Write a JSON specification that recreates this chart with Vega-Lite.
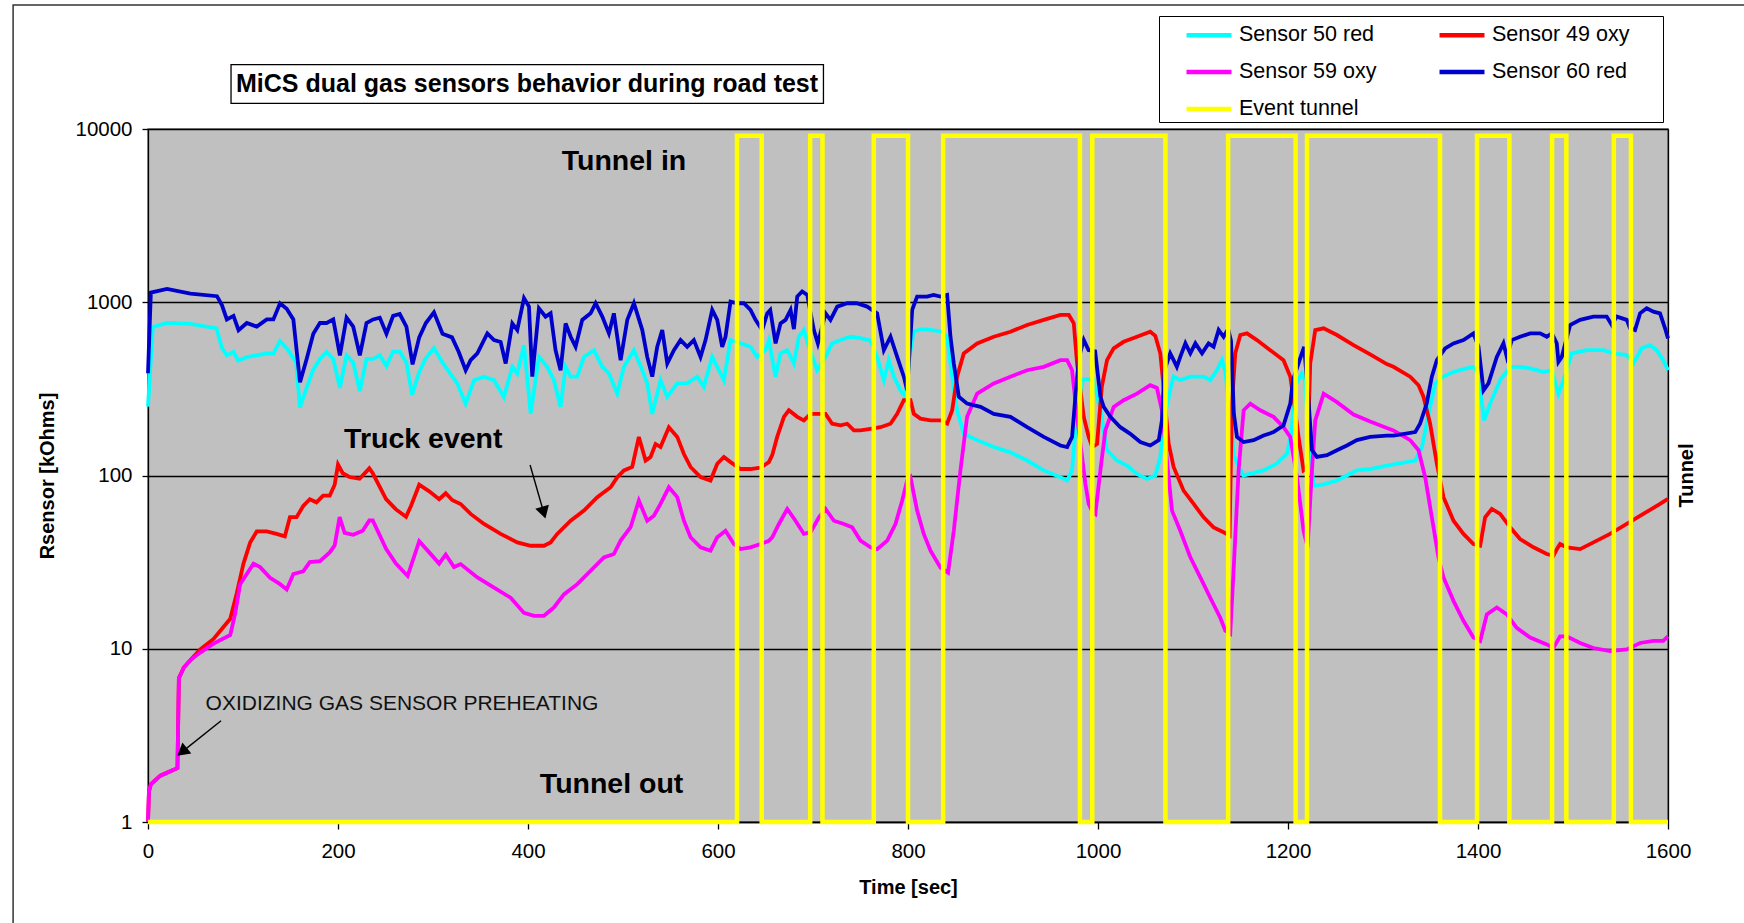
{
"$schema":"https://vega.github.io/schema/vega-lite/v6.json",
"width":1520,"height":693,
"autosize":{"type":"none"},
"padding":{"left":148,"top":129,"right":76,"bottom":101},
"background":"white",
"config":{
 "view":{"fill":"#c0c0c0","stroke":"#6e6e6e","strokeWidth":1.5},
 "font":"Liberation Sans",
 "axis":{"labelFont":"Liberation Sans","labelFontSize":20.5,"labelColor":"black","labelFlush":false,"tickColor":"black","domainColor":"black","titleFont":"Liberation Sans","titleFontSize":20,"titleFontWeight":"bold","titleColor":"black","grid":false,"domainWidth":1.3,"tickWidth":1.3},
 "axisLeft":{"grid":true,"gridColor":"black","gridWidth":1.3,"gridOpacity":1,"tickSize":6,"labelPadding":10,"titlePadding":17},
 "axisBottom":{"tickSize":7,"labelPadding":12,"titlePadding":16},
 "axisRight":{"labels":false,"ticks":false,"grid":false,"titleAngle":270,"titleAlign":"center","titleBaseline":"middle","titleX":18,"titleY":346}
},
"datasets":{
"s50":[{"t":0,"v":250},{"t":5,"v":720},{"t":20,"v":760},{"t":45,"v":750},{"t":72,"v":706},{"t":78,"v":543},{"t":83,"v":494},{"t":90,"v":518},{"t":95,"v":460},{"t":104,"v":482},{"t":114,"v":494},{"t":125,"v":506},{"t":132,"v":506},{"t":139,"v":598},{"t":146,"v":543},{"t":156,"v":449},{"t":160,"v":247},{"t":167,"v":321},{"t":174,"v":408},{"t":181,"v":471},{"t":188,"v":518},{"t":195,"v":471},{"t":202,"v":321},{"t":209,"v":494},{"t":216,"v":449},{"t":223,"v":307},{"t":230,"v":471},{"t":237,"v":471},{"t":244,"v":494},{"t":251,"v":428},{"t":258,"v":518},{"t":265,"v":518},{"t":272,"v":449},{"t":278,"v":292},{"t":285,"v":389},{"t":292,"v":471},{"t":301,"v":543},{"t":310,"v":449},{"t":318,"v":389},{"t":325.6,"v":340},{"t":334.4,"v":260},{"t":343.2,"v":355},{"t":353.7,"v":372},{"t":364.2,"v":355},{"t":374.7,"v":284},{"t":383.5,"v":424},{"t":388.7,"v":388},{"t":395.8,"v":566},{"t":402.8,"v":227},{"t":411.5,"v":484},{"t":420.3,"v":424},{"t":427.3,"v":355},{"t":434.3,"v":249},{"t":439.6,"v":424},{"t":444.9,"v":372},{"t":451.9,"v":372},{"t":458.9,"v":484},{"t":469.4,"v":529},{"t":478.2,"v":424},{"t":485.2,"v":388},{"t":494,"v":297},{"t":501,"v":424},{"t":511.5,"v":529},{"t":520.3,"v":405},{"t":525.5,"v":340},{"t":530.8,"v":227},{"t":539.5,"v":355},{"t":546.6,"v":284},{"t":557.1,"v":340},{"t":567.6,"v":340},{"t":578.1,"v":372},{"t":585.1,"v":325},{"t":593.9,"v":484},{"t":599.2,"v":424},{"t":606.2,"v":355},{"t":613.2,"v":605},{"t":623.7,"v":579},{"t":634.2,"v":553},{"t":641.2,"v":484},{"t":650,"v":529},{"t":653.6,"v":605},{"t":660.6,"v":372},{"t":665.8,"v":507},{"t":672.9,"v":529},{"t":679.9,"v":443},{"t":685.1,"v":632},{"t":690.4,"v":691},{"t":695.7,"v":553},{"t":704.4,"v":405},{"t":713.2,"v":484},{"t":720.2,"v":579},{"t":729,"v":605},{"t":739.5,"v":632},{"t":750,"v":620},{"t":760.5,"v":600},{"t":767.5,"v":484},{"t":774.6,"v":355},{"t":779.8,"v":463},{"t":785.1,"v":372},{"t":792.1,"v":310},{"t":797.4,"v":285},{"t":802,"v":500},{"t":806,"v":680},{"t":815,"v":700},{"t":825,"v":690},{"t":834,"v":680},{"t":841.2,"v":632},{"t":846.5,"v":372},{"t":851.7,"v":238},{"t":858.7,"v":174},{"t":872.8,"v":160},{"t":890.3,"v":146},{"t":907.8,"v":136},{"t":925.4,"v":122},{"t":942.9,"v":107},{"t":960.4,"v":97.8},{"t":967.5,"v":93.5},{"t":972.7,"v":107},{"t":976.2,"v":182},{"t":984,"v":360},{"t":995,"v":360},{"t":1002.5,"v":238},{"t":1009.5,"v":140},{"t":1020,"v":122},{"t":1030.5,"v":114},{"t":1041,"v":102},{"t":1051.6,"v":95.6},{"t":1060.3,"v":100},{"t":1065.6,"v":128},{"t":1069,"v":208},{"t":1076,"v":310},{"t":1079.6,"v":372},{"t":1086.6,"v":355},{"t":1097.2,"v":372},{"t":1111.2,"v":372},{"t":1118.2,"v":355},{"t":1125.2,"v":405},{"t":1130.5,"v":463},{"t":1134,"v":400},{"t":1138,"v":250},{"t":1143,"v":130},{"t":1153,"v":100},{"t":1174,"v":107},{"t":1188,"v":117},{"t":1199,"v":134},{"t":1204,"v":182},{"t":1206.6,"v":325},{"t":1214.6,"v":388},{"t":1218,"v":355},{"t":1222,"v":150},{"t":1227,"v":87.5},{"t":1237.5,"v":89},{"t":1251.5,"v":93.5},{"t":1262,"v":100},{"t":1272.5,"v":107},{"t":1286.5,"v":109},{"t":1304,"v":114},{"t":1334,"v":122},{"t":1341,"v":146},{"t":1348,"v":227},{"t":1355,"v":340},{"t":1363.7,"v":372},{"t":1374,"v":396},{"t":1388,"v":415},{"t":1397,"v":424},{"t":1402,"v":325},{"t":1406.5,"v":208},{"t":1412.8,"v":260},{"t":1423.3,"v":355},{"t":1433.8,"v":424},{"t":1444,"v":424},{"t":1455,"v":415},{"t":1469,"v":396},{"t":1477.7,"v":405},{"t":1484.7,"v":297},{"t":1490,"v":355},{"t":1498.7,"v":507},{"t":1514.5,"v":529},{"t":1532,"v":529},{"t":1542.5,"v":507},{"t":1556.6,"v":496},{"t":1563.6,"v":443},{"t":1572.3,"v":542},{"t":1581,"v":566},{"t":1588,"v":529},{"t":1595,"v":463},{"t":1600,"v":405}],
"s49":[{"t":0,"v":1},{"t":1,"v":1.5},{"t":3,"v":1.65},{"t":13,"v":1.85},{"t":27,"v":2},{"t":31,"v":2.05},{"t":32.5,"v":6.76},{"t":37.7,"v":7.8},{"t":44.7,"v":8.6},{"t":55,"v":9.9},{"t":69,"v":11.4},{"t":86.6,"v":14.9},{"t":93.5,"v":21},{"t":100.5,"v":31},{"t":107.5,"v":41},{"t":114.5,"v":47.6},{"t":125,"v":47.6},{"t":135.4,"v":46},{"t":144,"v":44.5},{"t":149.4,"v":57.5},{"t":156.4,"v":57.5},{"t":163.4,"v":66.7},{"t":170.3,"v":73},{"t":177.3,"v":70},{"t":184.3,"v":76.5},{"t":191.3,"v":76.5},{"t":196.5,"v":88.5},{"t":200,"v":115.6},{"t":205,"v":103},{"t":212,"v":98},{"t":222.7,"v":95.7},{"t":233,"v":110},{"t":236.6,"v":103},{"t":250.6,"v":73},{"t":261,"v":63.7},{"t":271.6,"v":57.8},{"t":276.8,"v":66.7},{"t":285.5,"v":88.5},{"t":296,"v":81},{"t":306.5,"v":73},{"t":313.4,"v":79},{"t":320.4,"v":72},{"t":329.1,"v":68.5},{"t":339.6,"v":60},{"t":353.7,"v":52.5},{"t":371.2,"v":46},{"t":388.7,"v":41.1},{"t":402.8,"v":39.3},{"t":416.8,"v":39.3},{"t":423.8,"v":41.1},{"t":430.8,"v":46},{"t":444.9,"v":54.8},{"t":458.9,"v":62.7},{"t":472.9,"v":75},{"t":487,"v":85.5},{"t":494,"v":97.8},{"t":501,"v":107},{"t":509.7,"v":112},{"t":516.7,"v":167},{"t":523.8,"v":122},{"t":529,"v":128},{"t":534.3,"v":152},{"t":539.5,"v":146},{"t":548.3,"v":190},{"t":557.1,"v":167},{"t":564.1,"v":133},{"t":571.1,"v":112},{"t":581.6,"v":97.8},{"t":592.1,"v":93.5},{"t":599.2,"v":117},{"t":606.2,"v":128},{"t":613.2,"v":119.5},{"t":623.7,"v":109},{"t":634.2,"v":109},{"t":644.8,"v":111},{"t":653.5,"v":119.5},{"t":657.1,"v":131},{"t":662.3,"v":167},{"t":669.4,"v":218},{"t":674.6,"v":238},{"t":683.4,"v":218},{"t":690.4,"v":208},{"t":697.4,"v":227},{"t":706.2,"v":227},{"t":713.2,"v":227},{"t":720.2,"v":199},{"t":729,"v":195},{"t":736,"v":199},{"t":743,"v":182},{"t":750,"v":182},{"t":760.5,"v":186},{"t":771,"v":190},{"t":781.6,"v":199},{"t":788.6,"v":227},{"t":795.6,"v":272},{"t":802.6,"v":272},{"t":806.1,"v":227},{"t":813.1,"v":213},{"t":823.7,"v":208},{"t":834.2,"v":208},{"t":841.2,"v":199},{"t":846.5,"v":238},{"t":851.7,"v":372},{"t":858.7,"v":507},{"t":872.8,"v":579},{"t":890.3,"v":632},{"t":907.8,"v":676},{"t":925.4,"v":739},{"t":942.9,"v":791},{"t":960.4,"v":845},{"t":969.3,"v":845},{"t":974.5,"v":755},{"t":978,"v":443},{"t":985,"v":218},{"t":990.2,"v":167},{"t":994,"v":146},{"t":999,"v":152},{"t":1004,"v":325},{"t":1009.5,"v":463},{"t":1016.5,"v":542},{"t":1027,"v":591},{"t":1041,"v":632},{"t":1055,"v":676},{"t":1060.3,"v":640},{"t":1065.6,"v":507},{"t":1069,"v":325},{"t":1074.4,"v":152},{"t":1079.6,"v":112},{"t":1090.1,"v":81.8},{"t":1100.7,"v":68.5},{"t":1111.2,"v":57.4},{"t":1121.7,"v":50.2},{"t":1132.2,"v":47},{"t":1138.5,"v":45},{"t":1141,"v":260},{"t":1144.5,"v":507},{"t":1149.8,"v":647},{"t":1156.8,"v":661},{"t":1167.3,"v":605},{"t":1181.3,"v":529},{"t":1195.3,"v":463},{"t":1202.4,"v":372},{"t":1206.6,"v":260},{"t":1211.1,"v":167},{"t":1216.4,"v":107},{"t":1220,"v":110},{"t":1223.4,"v":443},{"t":1228.7,"v":691},{"t":1237.5,"v":707},{"t":1251.5,"v":647},{"t":1269,"v":566},{"t":1286.5,"v":500},{"t":1304,"v":440},{"t":1311,"v":424},{"t":1328.6,"v":372},{"t":1337.4,"v":332},{"t":1342.6,"v":285},{"t":1349.6,"v":199},{"t":1356.7,"v":117},{"t":1363.7,"v":75},{"t":1374.2,"v":54.8},{"t":1384.7,"v":46},{"t":1395.2,"v":40.2},{"t":1402.3,"v":39.3},{"t":1407.5,"v":57.4},{"t":1414.5,"v":64.1},{"t":1423.3,"v":60},{"t":1433.8,"v":50.2},{"t":1444.3,"v":43},{"t":1458.4,"v":38.5},{"t":1472.4,"v":35.2},{"t":1479.4,"v":34.4},{"t":1483,"v":37.6},{"t":1486.4,"v":40.2},{"t":1493.4,"v":38.5},{"t":1507.5,"v":37.6},{"t":1521.5,"v":41.1},{"t":1539,"v":46},{"t":1556.6,"v":52.5},{"t":1574,"v":60},{"t":1591.6,"v":68.5},{"t":1600,"v":73.3}],
"s59":[{"t":0,"v":1},{"t":1,"v":1.5},{"t":3,"v":1.65},{"t":13,"v":1.85},{"t":27,"v":2},{"t":31,"v":2.05},{"t":32.5,"v":6.76},{"t":37.7,"v":7.8},{"t":44.7,"v":8.6},{"t":55,"v":9.5},{"t":69,"v":10.7},{"t":86.6,"v":12},{"t":91.8,"v":16},{"t":97,"v":23.6},{"t":104,"v":27},{"t":111,"v":31},{"t":118,"v":29.6},{"t":128.5,"v":25.7},{"t":139,"v":23.6},{"t":146,"v":22},{"t":153,"v":27},{"t":163.4,"v":28},{"t":170.3,"v":31.6},{"t":181,"v":32},{"t":191.3,"v":36},{"t":196.5,"v":39.5},{"t":201.7,"v":57.5},{"t":207,"v":46.6},{"t":216,"v":45.5},{"t":226,"v":48},{"t":233,"v":55},{"t":236.6,"v":55},{"t":250.6,"v":37.7},{"t":261,"v":31},{"t":273.3,"v":26.3},{"t":285.5,"v":41.8},{"t":296,"v":36},{"t":306.5,"v":31},{"t":313.4,"v":35},{"t":322.1,"v":29.6},{"t":329.1,"v":30.8},{"t":346.7,"v":25.8},{"t":364.2,"v":22.5},{"t":381.7,"v":19.7},{"t":395.8,"v":16.1},{"t":406.3,"v":15.5},{"t":416.8,"v":15.5},{"t":427.3,"v":17.3},{"t":437.8,"v":20.6},{"t":451.9,"v":23.6},{"t":465.9,"v":28.2},{"t":479.9,"v":33.7},{"t":490.4,"v":35.2},{"t":497.5,"v":42.1},{"t":508,"v":50.3},{"t":516.7,"v":71.7},{"t":525.5,"v":54.8},{"t":532.5,"v":58.6},{"t":539.5,"v":68.5},{"t":548.3,"v":85.5},{"t":557.1,"v":75},{"t":564.1,"v":54.8},{"t":571.1,"v":44},{"t":581.6,"v":38.5},{"t":592.1,"v":36.8},{"t":599.2,"v":44},{"t":607.9,"v":48},{"t":616.7,"v":40.2},{"t":623.7,"v":37.6},{"t":634.2,"v":38.5},{"t":644.8,"v":40.2},{"t":653.5,"v":42},{"t":657.1,"v":44},{"t":664.1,"v":52.5},{"t":672.9,"v":64.1},{"t":681.6,"v":54.8},{"t":690.4,"v":46},{"t":697.4,"v":47},{"t":706.2,"v":57.4},{"t":713.2,"v":64.1},{"t":722,"v":54.8},{"t":732.5,"v":52.5},{"t":741.2,"v":50.2},{"t":750,"v":42.1},{"t":760.5,"v":38.5},{"t":767.5,"v":37.6},{"t":778.1,"v":42.1},{"t":786.8,"v":52.5},{"t":793.9,"v":71.7},{"t":799.1,"v":93.5},{"t":802.6,"v":97.8},{"t":809.6,"v":62.7},{"t":816.6,"v":46},{"t":823.7,"v":36.8},{"t":834.2,"v":29.4},{"t":842.2,"v":27.5},{"t":848.2,"v":48},{"t":855.2,"v":107},{"t":862.2,"v":218},{"t":872.8,"v":297},{"t":890.3,"v":340},{"t":907.8,"v":372},{"t":925.4,"v":405},{"t":942.9,"v":424},{"t":960.4,"v":463},{"t":967.5,"v":463},{"t":972.7,"v":405},{"t":978,"v":218},{"t":986.7,"v":89.6},{"t":990.2,"v":68.5},{"t":994,"v":62},{"t":997.2,"v":60},{"t":1002.5,"v":107},{"t":1007.7,"v":182},{"t":1016.5,"v":249},{"t":1027,"v":272},{"t":1041,"v":297},{"t":1055,"v":332},{"t":1062,"v":320},{"t":1067.3,"v":238},{"t":1072.6,"v":122},{"t":1077.9,"v":62.7},{"t":1086.6,"v":48},{"t":1097.2,"v":33.7},{"t":1107.7,"v":25.8},{"t":1118.2,"v":19.7},{"t":1128.7,"v":15.1},{"t":1134,"v":12.7},{"t":1139.2,"v":12.2},{"t":1142.7,"v":28.2},{"t":1148,"v":107},{"t":1153.3,"v":238},{"t":1160.3,"v":260},{"t":1170.8,"v":238},{"t":1184.8,"v":218},{"t":1195.3,"v":190},{"t":1202.4,"v":167},{"t":1209.4,"v":97.8},{"t":1216.4,"v":48},{"t":1220.6,"v":38.5},{"t":1225.2,"v":107},{"t":1228.7,"v":208},{"t":1237.5,"v":297},{"t":1251.5,"v":265},{"t":1269,"v":225},{"t":1286.5,"v":205},{"t":1304,"v":188},{"t":1311,"v":182},{"t":1328.6,"v":160},{"t":1337.4,"v":140},{"t":1344.4,"v":97.8},{"t":1351.4,"v":57.4},{"t":1358.4,"v":33.7},{"t":1363.7,"v":25.8},{"t":1374.2,"v":18.9},{"t":1384.7,"v":14.5},{"t":1395.2,"v":11.6},{"t":1402.3,"v":11.1},{"t":1409.3,"v":15.8},{"t":1419.8,"v":17.3},{"t":1430.3,"v":15.8},{"t":1440.8,"v":13.2},{"t":1454.9,"v":11.6},{"t":1472.4,"v":10.6},{"t":1479.4,"v":10.1},{"t":1486.4,"v":11.8},{"t":1493.4,"v":11.8},{"t":1507.5,"v":10.8},{"t":1521.5,"v":10.1},{"t":1539,"v":9.7},{"t":1556.6,"v":9.9},{"t":1570.6,"v":10.8},{"t":1584.6,"v":11.1},{"t":1595,"v":11.1},{"t":1600,"v":11.8}],
"s60":[{"t":0,"v":389},{"t":3,"v":1137},{"t":20,"v":1193},{"t":44.7,"v":1121},{"t":72.6,"v":1084},{"t":77.8,"v":963},{"t":83,"v":796},{"t":90,"v":834},{"t":95.3,"v":690},{"t":104,"v":759},{"t":114.5,"v":723},{"t":125,"v":796},{"t":132,"v":796},{"t":139,"v":986},{"t":146,"v":918},{"t":153,"v":796},{"t":160,"v":345},{"t":167,"v":471},{"t":174,"v":658},{"t":181,"v":759},{"t":188,"v":759},{"t":195,"v":796},{"t":202,"v":494},{"t":209,"v":815},{"t":216,"v":723},{"t":223,"v":494},{"t":230,"v":759},{"t":237,"v":796},{"t":244,"v":815},{"t":251,"v":658},{"t":258,"v":834},{"t":265,"v":855},{"t":272,"v":723},{"t":278.5,"v":438},{"t":285.5,"v":627},{"t":292.5,"v":759},{"t":301,"v":875},{"t":310,"v":658},{"t":320,"v":627},{"t":327,"v":518},{"t":334.4,"v":405},{"t":339.6,"v":463},{"t":346.7,"v":507},{"t":357.2,"v":661},{"t":364.2,"v":605},{"t":371.2,"v":590},{"t":376.5,"v":443},{"t":383.5,"v":755},{"t":388.7,"v":691},{"t":395.8,"v":1055},{"t":401,"v":944},{"t":404.5,"v":372},{"t":411.5,"v":923},{"t":418.5,"v":826},{"t":423.8,"v":863},{"t":429,"v":529},{"t":434.3,"v":405},{"t":439.6,"v":755},{"t":444.9,"v":632},{"t":450.1,"v":553},{"t":457.1,"v":791},{"t":465.9,"v":863},{"t":471.2,"v":987},{"t":478.2,"v":826},{"t":485.2,"v":661},{"t":490.4,"v":863},{"t":497.5,"v":463},{"t":504.5,"v":791},{"t":511.5,"v":987},{"t":520.3,"v":691},{"t":525.5,"v":484},{"t":530.8,"v":372},{"t":536,"v":553},{"t":541.3,"v":691},{"t":546.6,"v":443},{"t":553.6,"v":529},{"t":560.6,"v":605},{"t":567.6,"v":553},{"t":574.6,"v":605},{"t":581.6,"v":484},{"t":586.9,"v":605},{"t":593.9,"v":903},{"t":599.2,"v":791},{"t":604.4,"v":553},{"t":607.9,"v":632},{"t":613.2,"v":1009},{"t":620.2,"v":987},{"t":627.2,"v":987},{"t":634.2,"v":903},{"t":639.5,"v":791},{"t":646.5,"v":691},{"t":651.8,"v":863},{"t":655,"v":903},{"t":660.6,"v":579},{"t":665.8,"v":755},{"t":671.1,"v":791},{"t":676.4,"v":903},{"t":679.9,"v":700},{"t":683.4,"v":1079},{"t":688.6,"v":1153},{"t":693.9,"v":1103},{"t":700.9,"v":691},{"t":705.1,"v":579},{"t":713.2,"v":863},{"t":718.4,"v":791},{"t":725.5,"v":944},{"t":736,"v":987},{"t":746,"v":987},{"t":757,"v":944},{"t":767.5,"v":863},{"t":774.6,"v":529},{"t":781.6,"v":632},{"t":788.6,"v":484},{"t":795.6,"v":372},{"t":799.1,"v":310},{"t":804.4,"v":903},{"t":809.6,"v":1079},{"t":820,"v":1079},{"t":827,"v":1103},{"t":834.2,"v":1079},{"t":841.2,"v":1103},{"t":844.7,"v":632},{"t":848.2,"v":443},{"t":853.5,"v":285},{"t":862.2,"v":260},{"t":876.3,"v":249},{"t":890.3,"v":227},{"t":907.8,"v":218},{"t":925.4,"v":190},{"t":942.9,"v":167},{"t":960.4,"v":149},{"t":967.5,"v":146},{"t":972.7,"v":167},{"t":976.2,"v":285},{"t":980,"v":480},{"t":985,"v":605},{"t":990,"v":529},{"t":997,"v":520},{"t":1002.5,"v":285},{"t":1006,"v":249},{"t":1013,"v":218},{"t":1023.5,"v":190},{"t":1034,"v":174},{"t":1044.5,"v":156},{"t":1055,"v":149},{"t":1064,"v":160},{"t":1067.3,"v":208},{"t":1070,"v":406},{"t":1076,"v":507},{"t":1079.6,"v":463},{"t":1083,"v":424},{"t":1086.6,"v":484},{"t":1092,"v":579},{"t":1097.2,"v":507},{"t":1102.5,"v":579},{"t":1109.5,"v":507},{"t":1116.4,"v":579},{"t":1121.7,"v":553},{"t":1127,"v":691},{"t":1132.2,"v":632},{"t":1137,"v":700},{"t":1140,"v":600},{"t":1143,"v":227},{"t":1146.3,"v":167},{"t":1153.3,"v":156},{"t":1163.8,"v":160},{"t":1174.3,"v":170},{"t":1184.8,"v":178},{"t":1195.3,"v":195},{"t":1202.4,"v":260},{"t":1205.2,"v":355},{"t":1214.6,"v":507},{"t":1217,"v":553},{"t":1221,"v":300},{"t":1225.2,"v":140},{"t":1230.4,"v":128},{"t":1241,"v":131},{"t":1251.5,"v":140},{"t":1262,"v":149},{"t":1272.5,"v":160},{"t":1286.5,"v":167},{"t":1304,"v":170},{"t":1311,"v":170},{"t":1333.9,"v":178},{"t":1339,"v":199},{"t":1346,"v":260},{"t":1351.4,"v":372},{"t":1356.7,"v":463},{"t":1365.4,"v":542},{"t":1374.2,"v":579},{"t":1384.7,"v":605},{"t":1395.2,"v":661},{"t":1400.5,"v":553},{"t":1405.8,"v":310},{"t":1411,"v":340},{"t":1419.8,"v":484},{"t":1426.8,"v":579},{"t":1430.3,"v":484},{"t":1435.6,"v":605},{"t":1444.3,"v":632},{"t":1454.9,"v":661},{"t":1465.4,"v":661},{"t":1472.4,"v":632},{"t":1477.7,"v":661},{"t":1482.9,"v":579},{"t":1484.7,"v":453},{"t":1488.2,"v":484},{"t":1497,"v":739},{"t":1507.5,"v":791},{"t":1521.5,"v":826},{"t":1535.5,"v":826},{"t":1540.8,"v":739},{"t":1546,"v":826},{"t":1556.6,"v":791},{"t":1560,"v":707},{"t":1565.3,"v":691},{"t":1570.6,"v":863},{"t":1577.6,"v":923},{"t":1584.6,"v":882},{"t":1591.6,"v":863},{"t":1596.9,"v":707},{"t":1600,"v":619}],
"tun":[{"t":0,"v":0},{"t":620,"v":1},{"t":646,"v":0},{"t":697,"v":1},{"t":710,"v":0},{"t":764,"v":1},{"t":800,"v":0},{"t":837,"v":1},{"t":981,"v":0},{"t":994,"v":1},{"t":1071,"v":0},{"t":1137,"v":1},{"t":1208,"v":0},{"t":1220,"v":1},{"t":1360,"v":0},{"t":1399,"v":1},{"t":1433,"v":0},{"t":1478,"v":1},{"t":1493,"v":0},{"t":1543,"v":1},{"t":1561,"v":0},{"t":1600,"v":0}]
},
"layer":[
 {"layer":[
  {"data":{"values":[{}]},
   "mark":{"type":"rect","fill":"transparent","stroke":"#333333","strokeWidth":1.5},
   "encoding":{"x":{"datum":-142,"scale":{"domain":[0,1600]}},"x2":{"datum":1900},
               "y":{"datum":51960,"scale":{"type":"log","domain":[1,10000]}},"y2":{"datum":0.15}}},
  {"data":{"values":[{}]},
   "mark":{"type":"rect","fill":"white","stroke":"black","strokeWidth":1.3},
   "encoding":{"x":{"datum":87.4,"scale":{"domain":[0,1600]}},"x2":{"datum":711},
               "y":{"datum":23550,"scale":{"type":"log","domain":[1,10000]}},"y2":{"datum":14060}}},
  {"data":{"values":[{}]},
   "mark":{"type":"text","text":"MiCS dual gas sensors behavior during road test","font":"Liberation Sans","fontWeight":"bold","fontSize":25,"align":"center","baseline":"middle","color":"black"},
   "encoding":{"x":{"datum":399,"scale":{"domain":[0,1600]}},
               "y":{"datum":18200,"scale":{"type":"log","domain":[1,10000]}}}},
  {"data":{"name":"s50"},
   "mark":{"type":"line","strokeWidth":3.8},
   "encoding":{
    "x":{"field":"t","type":"quantitative","scale":{"domain":[0,1600]},"axis":{"values":[0,200,400,600,800,1000,1200,1400,1600],"format":"d","title":"Time [sec]"}},
    "y":{"field":"v","type":"quantitative","scale":{"type":"log","domain":[1,10000]},"axis":{"values":[1,10,100,1000,10000],"format":"d","title":"Rsensor [kOhms]"}},
    "color":{"datum":"Sensor 50 red","type":"nominal",
      "scale":{"domain":["Sensor 50 red","Sensor 49 oxy","Sensor 59 oxy","Sensor 60 red","Event tunnel"],"range":["#00ffff","#ff0000","#ff00ff","#0000cc","#ffff00"]},
      "legend":{"orient":"none","legendX":1011,"legendY":-113,"columns":2,"direction":"horizontal","title":".","titleOrient":"right","titleFontSize":2,"titleColor":"white","titlePadding":31,"symbolType":"M-1.55,0H1.55","symbolSize":841,"symbolStrokeWidth":4.5,"symbolOffset":31,"labelOffset":13,"labelFont":"Liberation Sans","labelFontSize":21.5,"labelColor":"black","labelLimit":400,"strokeColor":"black","fillColor":"white","padding":2,"rowPadding":9,"columnPadding":37}}}},
  {"data":{"name":"s49"},
   "mark":{"type":"line","strokeWidth":3.8},
   "encoding":{
    "x":{"field":"t","type":"quantitative","scale":{"domain":[0,1600]},"axis":{"values":[0,200,400,600,800,1000,1200,1400,1600],"format":"d","title":"Time [sec]"}},
    "y":{"field":"v","type":"quantitative","scale":{"type":"log","domain":[1,10000]},"axis":{"values":[1,10,100,1000,10000],"format":"d","title":"Rsensor [kOhms]"}},
    "color":{"datum":"Sensor 49 oxy","type":"nominal"}}},
  {"data":{"name":"s59"},
   "mark":{"type":"line","strokeWidth":3.8},
   "encoding":{
    "x":{"field":"t","type":"quantitative","scale":{"domain":[0,1600]},"axis":{"values":[0,200,400,600,800,1000,1200,1400,1600],"format":"d","title":"Time [sec]"}},
    "y":{"field":"v","type":"quantitative","scale":{"type":"log","domain":[1,10000]},"axis":{"values":[1,10,100,1000,10000],"format":"d","title":"Rsensor [kOhms]"}},
    "color":{"datum":"Sensor 59 oxy","type":"nominal"}}},
  {"data":{"name":"s60"},
   "mark":{"type":"line","strokeWidth":3.8},
   "encoding":{
    "x":{"field":"t","type":"quantitative","scale":{"domain":[0,1600]},"axis":{"values":[0,200,400,600,800,1000,1200,1400,1600],"format":"d","title":"Time [sec]"}},
    "y":{"field":"v","type":"quantitative","scale":{"type":"log","domain":[1,10000]},"axis":{"values":[1,10,100,1000,10000],"format":"d","title":"Rsensor [kOhms]"}},
    "color":{"datum":"Sensor 60 red","type":"nominal"}}},
  {"data":{"values":[{}]},
   "mark":{"type":"text","text":"Tunnel in","font":"Liberation Sans","fontWeight":"bold","fontSize":28.5,"align":"center","baseline":"middle","color":"black"},
   "encoding":{"x":{"datum":501,"scale":{"domain":[0,1600]}},"y":{"datum":6520,"scale":{"type":"log","domain":[1,10000]}}}},
  {"data":{"values":[{}]},
   "mark":{"type":"text","text":"Tunnel out","font":"Liberation Sans","fontWeight":"bold","fontSize":28.5,"align":"center","baseline":"middle","color":"black"},
   "encoding":{"x":{"datum":488,"scale":{"domain":[0,1600]}},"y":{"datum":1.655,"scale":{"type":"log","domain":[1,10000]}}}},
  {"data":{"values":[{}]},
   "mark":{"type":"text","text":"Truck event","font":"Liberation Sans","fontWeight":"bold","fontSize":28.5,"align":"center","baseline":"middle","color":"black"},
   "encoding":{"x":{"datum":289.8,"scale":{"domain":[0,1600]}},"y":{"datum":161.8,"scale":{"type":"log","domain":[1,10000]}}}},
  {"data":{"values":[{}]},
   "mark":{"type":"text","text":"OXIDIZING GAS SENSOR PREHEATING","font":"Liberation Sans","fontSize":21,"align":"left","baseline":"middle","color":"#111111"},
   "encoding":{"x":{"datum":60.6,"scale":{"domain":[0,1600]}},"y":{"datum":4.8,"scale":{"type":"log","domain":[1,10000]}}}},
  {"data":{"values":[{}]},
   "mark":{"type":"rule","color":"black","strokeWidth":1.4},
   "encoding":{"x":{"datum":402.2,"scale":{"domain":[0,1600]}},"x2":{"datum":416.6},"y":{"datum":115,"scale":{"type":"log","domain":[1,10000]}},"y2":{"datum":61}}},
  {"data":{"values":[{}]},
   "mark":{"type":"point","shape":"triangle-down","filled":true,"color":"black","opacity":1,"size":200,"angle":-16},
   "encoding":{"x":{"datum":416.6,"scale":{"domain":[0,1600]}},"y":{"datum":61,"scale":{"type":"log","domain":[1,10000]}}}},
  {"data":{"values":[{}]},
   "mark":{"type":"rule","color":"black","strokeWidth":1.4},
   "encoding":{"x":{"datum":76.9,"scale":{"domain":[0,1600]}},"x2":{"datum":35.9},"y":{"datum":3.84,"scale":{"type":"log","domain":[1,10000]}},"y2":{"datum":2.54}}},
  {"data":{"values":[{}]},
   "mark":{"type":"point","shape":"triangle-down","filled":true,"color":"black","opacity":1,"size":200,"angle":51},
   "encoding":{"x":{"datum":35.9,"scale":{"domain":[0,1600]}},"y":{"datum":2.54,"scale":{"type":"log","domain":[1,10000]}}}}
 ]},
 {"data":{"name":"tun"},
  "mark":{"type":"line","interpolate":"step-after","strokeWidth":4.5},
  "encoding":{
   "x":{"field":"t","type":"quantitative","scale":{"domain":[0,1600]},"axis":{"values":[0,200,400,600,800,1000,1200,1400,1600],"format":"d","title":"Time [sec]"}},
   "y":{"field":"v","type":"quantitative","scale":{"domain":[0,1.01]},"axis":{"orient":"right","title":"Tunnel"}},
   "color":{"datum":"Event tunnel","type":"nominal"}}}
],
"resolve":{"scale":{"y":"independent"},"axis":{"y":"independent"}}
}
